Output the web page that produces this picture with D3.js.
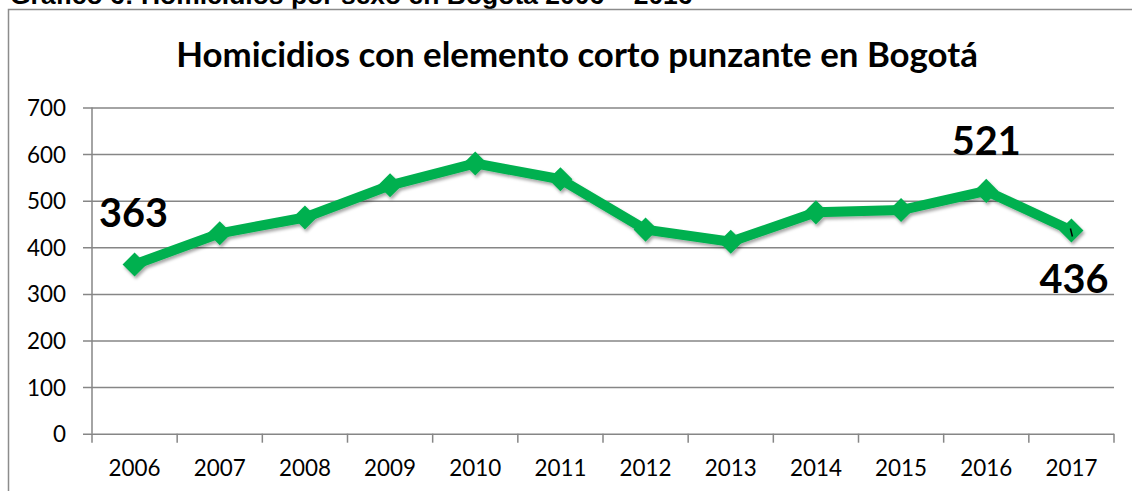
<!DOCTYPE html>
<html><head><meta charset="utf-8">
<script src="https://cdn.jsdelivr.net/npm/d3@7"></script>
<style>body{margin:0;background:#fff}svg{display:block}</style>
</head><body>
<script>
const years = ["2006","2007","2008","2009","2010","2011","2012","2013","2014","2015","2016","2017"];
const values = [363, 430, 464, 533, 580, 546, 438, 412, 475, 480, 521, 436];
const yTicks = [0,100,200,300,400,500,600,700];
const labeledYears = ["2006","2016","2017"];
const chartTitle = "Homicidios con elemento corto punzante en Bogotá";
const docTitle = "Gráfico 6: Homicidios por sexo en Bogotá 2006 – 2016";

(function(){
const W = 1132, H = 491;
const FONT = "Lato, Carlito, Calibri, sans-serif";
const svg = d3.select("body").append("svg").attr("width", W).attr("height", H);
const defs = svg.append("defs");
const f = defs.append("filter").attr("id","sh").attr("x","-20%").attr("y","-20%").attr("width","140%").attr("height","140%");
f.append("feDropShadow").attr("dx",1.5).attr("dy",2.5).attr("stdDeviation",1.6).attr("flood-color","#000").attr("flood-opacity",0.35);

// font size fitted so that a sample string reaches a target width
function fitSize(sample, target, weight, family) {
  const tmp = svg.append("text").attr("font-family", family).attr("font-weight", weight).attr("font-size", 100).text(sample);
  const w = tmp.node().getComputedTextLength(); tmp.remove();
  return 100 * target / w;
}
const tickSize = fitSize("2006", 52, "normal", FONT);
const ySize = fitSize("700", 39, "normal", FONT);
const lblSize = fitSize("363", 69, "bold", FONT);

const pL = 92, pR = 1114, pT = 107.5, pB = 433.7;
const x = d3.scaleBand().domain(years).range([pL, pR]).padding(0);
const y = d3.scaleLinear().domain([0,700]).range([pB, pT]);

// document caption (cut off at top, as in the source)
const cap = svg.append("text").attr("x", 10).attr("y", 4)
  .attr("font-family","Liberation Sans, Arial, sans-serif").attr("font-weight","bold")
  .attr("font-size", 20).attr("fill","#000").text(docTitle);
{ const w = cap.node().getComputedTextLength(); cap.attr("font-size", 20*683/w); }

// chart border
svg.append("path").attr("d", `M8.5,${H+2}V9.5H${W+2}`).attr("fill","none").attr("stroke","#8c8c8c").attr("stroke-width",1.5);

// title
const t = svg.append("text").attr("x", 577).attr("y", 67).attr("text-anchor","middle")
  .attr("font-family",FONT).attr("font-weight","bold")
  .attr("font-size", 29).attr("fill","#000").text(chartTitle);
{ const w = t.node().getComputedTextLength(); t.attr("font-size", 29*802/w); }

// gridlines + y axis
const yAxis = d3.axisLeft(y).tickValues(yTicks).tickSize(pR - pL + 9).tickPadding(17).tickFormat(d3.format("d"));
const gy = svg.append("g").attr("transform", `translate(${pR},0)`).call(yAxis);
gy.select(".domain").remove();
gy.selectAll(".tick line").attr("stroke","#868686").attr("stroke-width",1.5);
gy.selectAll(".tick text").attr("font-family",FONT).attr("font-size",ySize).attr("fill","#000").attr("dy","0.36em");

// y axis line
svg.append("line").attr("x1",pL).attr("x2",pL).attr("y1",pT).attr("y2",pB).attr("stroke","#868686").attr("stroke-width",1.5);

// x axis: boundary ticks
const xb = svg.append("g");
const bounds = years.map(d => x(d)).concat([pR]);
xb.selectAll("line.t").data(bounds).join("line").attr("class","t")
  .attr("x1",d=>d).attr("x2",d=>d).attr("y1",pB).attr("y2",pB+9)
  .attr("stroke","#868686").attr("stroke-width",1.5);
xb.selectAll("text").data(years).join("text")
  .attr("x", d => x(d) + x.bandwidth()/2).attr("y", 476).attr("text-anchor","middle")
  .attr("font-family",FONT).attr("font-size",tickSize).attr("fill","#000").text(d=>d);

// line + markers
const data = years.map((d,i)=>({year:d, v:values[i]}));
const cx = d => x(d.year) + x.bandwidth()/2;
const g = svg.append("g").attr("filter","url(#sh)");
g.append("path").datum(data)
  .attr("d", d3.line().x(cx).y(d=>y(d.v)))
  .attr("fill","none").attr("stroke","#00B050").attr("stroke-width",10).attr("stroke-linejoin","round");
g.selectAll("path.m").data(data).join("path").attr("class","m")
  .attr("d", d3.symbol().type(d3.symbolSquare).size(290))
  .attr("transform", d => `translate(${cx(d)},${y(d.v)}) rotate(45)`)
  .attr("fill","#00B050");

// small leader tick at 2017
const last = data[data.length-1];
svg.append("line").attr("x1", cx(last)-1).attr("x2", cx(last)+1).attr("y1", y(last.v)-2).attr("y2", y(last.v)+6)
  .attr("stroke","#000").attr("stroke-width",1.5);

// data labels
const labelPos = {"2006": {dx:-1, by:227}, "2016": {dx:0, by:155}, "2017": {dx:2.5, by:292.5}};
svg.selectAll("text.lbl").data(data.filter(d=>labeledYears.includes(d.year))).join("text").attr("class","lbl")
  .attr("x", d => cx(d) + labelPos[d.year].dx).attr("y", d => labelPos[d.year].by)
  .attr("text-anchor","middle").attr("font-family",FONT).attr("font-weight","bold")
  .attr("font-size",lblSize).attr("fill","#000").text(d=>d.v);
})();
</script>
</body></html>
